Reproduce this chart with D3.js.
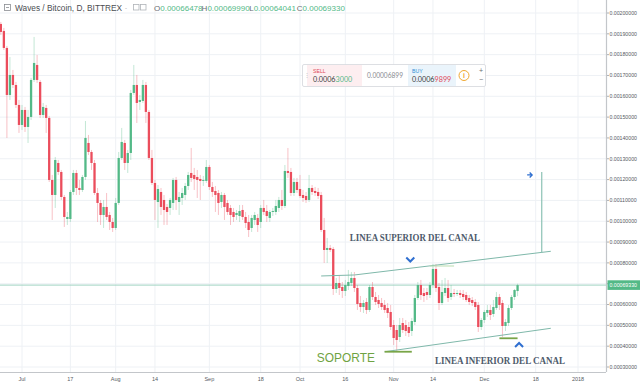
<!DOCTYPE html>
<html><head><meta charset="utf-8">
<script src="https://cdn.jsdelivr.net/npm/d3@7"></script>
<style>
html,body{margin:0;padding:0;background:#fff;}
svg{display:block;font-family:"Liberation Sans",Arial,sans-serif;}
</style></head><body>
<svg id="chart" width="640" height="385"></svg>
<script>
// ---------------- DATA ----------------
const dates = [
"2017-06-24","2017-06-25","2017-06-26","2017-06-27","2017-06-28","2017-06-29","2017-06-30",
"2017-07-01","2017-07-02","2017-07-03","2017-07-04","2017-07-05","2017-07-06","2017-07-07","2017-07-08","2017-07-09","2017-07-10",
"2017-07-11","2017-07-12","2017-07-13","2017-07-14","2017-07-15","2017-07-16","2017-07-17","2017-07-18","2017-07-19","2017-07-20",
"2017-07-21","2017-07-22","2017-07-23","2017-07-24","2017-07-25","2017-07-26","2017-07-27","2017-07-28","2017-07-29","2017-07-30","2017-07-31",
"2017-08-01","2017-08-02","2017-08-03","2017-08-04","2017-08-05","2017-08-06","2017-08-07","2017-08-08","2017-08-09","2017-08-10",
"2017-08-11","2017-08-12","2017-08-13","2017-08-14","2017-08-15","2017-08-16","2017-08-17","2017-08-18","2017-08-19","2017-08-20",
"2017-08-21","2017-08-22","2017-08-23","2017-08-24","2017-08-25","2017-08-26","2017-08-27","2017-08-28","2017-08-29","2017-08-30","2017-08-31",
"2017-09-01","2017-09-02","2017-09-03","2017-09-04","2017-09-05","2017-09-06","2017-09-07","2017-09-08","2017-09-09","2017-09-10",
"2017-09-11","2017-09-12","2017-09-13","2017-09-14","2017-09-15","2017-09-16","2017-09-17","2017-09-18","2017-09-19","2017-09-20",
"2017-09-21","2017-09-22","2017-09-23","2017-09-24","2017-09-25","2017-09-26","2017-09-27","2017-09-28","2017-09-29","2017-09-30",
"2017-10-01","2017-10-02","2017-10-03","2017-10-04","2017-10-05","2017-10-06","2017-10-07","2017-10-08","2017-10-09","2017-10-10",
"2017-10-11","2017-10-12","2017-10-13","2017-10-14","2017-10-15","2017-10-16","2017-10-17","2017-10-18","2017-10-19","2017-10-20",
"2017-10-21","2017-10-22","2017-10-23","2017-10-24","2017-10-25","2017-10-26","2017-10-27","2017-10-28","2017-10-29","2017-10-30","2017-10-31",
"2017-11-01","2017-11-02","2017-11-03","2017-11-04","2017-11-05","2017-11-06","2017-11-07","2017-11-08","2017-11-09","2017-11-10",
"2017-11-11","2017-11-12","2017-11-13","2017-11-14","2017-11-15","2017-11-16","2017-11-17","2017-11-18","2017-11-19","2017-11-20",
"2017-11-21","2017-11-22","2017-11-23","2017-11-24","2017-11-25","2017-11-26","2017-11-27","2017-11-28","2017-11-29","2017-11-30",
"2017-12-01","2017-12-02","2017-12-03","2017-12-04","2017-12-05","2017-12-06","2017-12-07","2017-12-08","2017-12-09","2017-12-10",
"2017-12-11","2017-12-12"];

const open = [
0.0019474,0.0019138,0.0018322,0.0016064,0.0017025,0.0016544,0.0015584,
0.0014623,0.0015344,0.0014527,0.0015008,0.0016785,0.0017505,0.0016689,0.0015104,0.0015440,0.0014960,
0.0011982,0.0011261,0.0012798,0.0012366,0.0011165,0.0010108,0.0010108,0.0011405,0.0012318,0.0011597,
0.0011501,0.0012126,0.0013759,0.0013326,0.0012798,0.0011357,0.0010877,0.0010301,0.0010685,0.0010301,0.0009964,
0.0009676,0.0010877,0.0013038,0.0013759,0.0012798,0.0013278,0.0016160,0.0016544,0.0015728,0.0015776,
0.0016544,0.0015248,0.0013038,0.0011838,0.0010925,0.0011405,0.0011021,0.0010685,0.0010637,0.0010877,
0.0011982,0.0010925,0.0011117,0.0011261,0.0011693,0.0012318,0.0012222,0.0012126,0.0012030,0.0011934,0.0011934,
0.0012606,0.0011645,0.0011453,0.0011357,0.0010925,0.0011261,0.0010877,0.0010637,0.0010445,0.0010301,
0.0010253,0.0010541,0.0010205,0.0009964,0.0009676,0.0010060,0.0010157,0.0009964,0.0010637,0.0010493,
0.0010157,0.0010445,0.0010445,0.0010637,0.0011021,0.0010733,0.0012414,0.0012366,0.0011357,0.0011886,
0.0011549,0.0011261,0.0011213,0.0011021,0.0011597,0.0011453,0.0011405,0.0011261,0.0009580,0.0008620,
0.0008716,0.0008668,0.0006746,0.0007035,0.0006842,0.0006650,0.0006890,0.0007035,0.0007275,0.0006794,
0.0006074,0.0005882,0.0006122,0.0005738,0.0006842,0.0006362,0.0006218,0.0006074,0.0005978,0.0005834,0.0005642,
0.0005017,0.0004777,0.0004441,0.0005113,0.0005017,0.0004921,0.0004729,0.0005161,0.0006314,0.0006938,
0.0006554,0.0006602,0.0006458,0.0006938,0.0007707,0.0006842,0.0006074,0.0006554,0.0006794,0.0006362,
0.0006554,0.0006506,0.0006554,0.0006506,0.0006458,0.0006314,0.0006218,0.0006122,0.0005978,0.0004921,
0.0005257,0.0005594,0.0005738,0.0005546,0.0005834,0.0006362,0.0006074,0.0004969,0.0005113,0.0005834,
0.0006362,0.00066478];

const high = [
0.0019570,0.0019282,0.0018418,0.0017889,0.0017265,0.0016689,0.0015824,
0.0015584,0.0015488,0.0015344,0.0016881,0.0018850,0.0017985,0.0016785,0.0015680,0.0015584,0.0015056,
0.0012222,0.0013086,0.0012942,0.0012462,0.0011261,0.0010445,0.0011501,0.0012462,0.0012462,0.0011982,
0.0012222,0.0014815,0.0014143,0.0013423,0.0012942,0.0011597,0.0011021,0.0011021,0.0011357,0.0010445,0.0010157,
0.0011117,0.0013326,0.0014479,0.0013903,0.0013423,0.0016304,0.0017505,0.0017025,0.0016064,0.0016785,
0.0016689,0.0015344,0.0013423,0.0011982,0.0011741,0.0011597,0.0011261,0.0010829,0.0011117,0.0012078,
0.0012126,0.0011405,0.0011597,0.0011838,0.0012366,0.0013519,0.0012558,0.0012462,0.0012222,0.0012174,0.0012942,
0.0012702,0.0011886,0.0011693,0.0011501,0.0011405,0.0011357,0.0011021,0.0010781,0.0010637,0.0010541,
0.0010781,0.0010781,0.0010445,0.0010301,0.0010301,0.0010445,0.0010349,0.0010781,0.0011021,0.0010781,
0.0010541,0.0010637,0.0011021,0.0011165,0.0011501,0.0012702,0.0013519,0.0012558,0.0012078,0.0012078,
0.0012222,0.0011501,0.0011405,0.0012222,0.0011741,0.0011645,0.0011597,0.0011405,0.0010157,0.0009196,
0.0008860,0.0008764,0.0007275,0.0007419,0.0007083,0.0007179,0.0007659,0.0007563,0.0007563,0.0006938,
0.0006410,0.0006218,0.0006314,0.0006938,0.0007083,0.0006602,0.0006458,0.0006314,0.0006218,0.0006074,0.0005978,
0.0005257,0.0005017,0.0005354,0.0005354,0.0005257,0.0005161,0.0005354,0.0006458,0.0007083,0.0007179,
0.0006794,0.0006794,0.0007083,0.0007947,0.0007947,0.0007035,0.0007179,0.0007275,0.0007179,0.0006938,
0.0006746,0.0006698,0.0006698,0.0006698,0.0006602,0.0006458,0.0006362,0.0006266,0.0006122,0.0005354,
0.0005738,0.0005978,0.0005978,0.0006218,0.0006602,0.0006506,0.0006218,0.0005305,0.0005978,0.0006458,
0.0006746,0.00069990];

const low = [
0.0018946,0.0018226,0.0013999,0.0015824,0.0016400,0.0015440,0.0014239,
0.0014383,0.0014287,0.0013759,0.0014863,0.0016689,0.0016641,0.0014960,0.0014960,0.0014239,0.0011886,
0.0010060,0.0010637,0.0012222,0.0011021,0.0009724,0.0009820,0.0009964,0.0011261,0.0011261,0.0011261,
0.0011405,0.0011982,0.0013182,0.0012462,0.0011261,0.0009964,0.0009820,0.0009676,0.0010060,0.0009580,0.0009484,
0.0009580,0.0010781,0.0012942,0.0012462,0.0012318,0.0012942,0.0016064,0.0014719,0.0015344,0.0015680,
0.0014719,0.0012942,0.0011741,0.0010060,0.0009676,0.0010301,0.0009820,0.0009820,0.0010301,0.0010541,
0.0010541,0.0010301,0.0010781,0.0011021,0.0011501,0.0011886,0.0011501,0.0011117,0.0011021,0.0011693,0.0011838,
0.0011501,0.0011165,0.0010445,0.0010301,0.0010637,0.0010060,0.0010301,0.0009820,0.0009964,0.0010060,
0.0009964,0.0010060,0.0009676,0.0009244,0.0009484,0.0009820,0.0009484,0.0009676,0.0010301,0.0009964,
0.0009964,0.0010253,0.0010301,0.0010445,0.0010541,0.0010637,0.0012078,0.0011213,0.0011213,0.0011357,
0.0011117,0.0010925,0.0010877,0.0010925,0.0011261,0.0011213,0.0011069,0.0009484,0.0007995,0.0007995,
0.0008523,0.0006458,0.0006554,0.0006458,0.0006314,0.0006410,0.0006698,0.0006890,0.0006602,0.0005738,
0.0005642,0.0005594,0.0005546,0.0005642,0.0006218,0.0005978,0.0005834,0.0005738,0.0005594,0.0005354,0.0004777,
0.0004057,0.0003720,0.0004201,0.0004633,0.0004489,0.0004441,0.0004489,0.0005017,0.0006218,0.0006218,
0.0006122,0.0006218,0.0006314,0.0006794,0.0006602,0.0005738,0.0005978,0.0006410,0.0006122,0.0006218,
0.0006362,0.0006410,0.0006314,0.0006218,0.0006122,0.0005978,0.0005930,0.0005738,0.0004681,0.0004777,
0.0005113,0.0005402,0.0005257,0.0005402,0.0005738,0.0005738,0.0004441,0.0004729,0.0004969,0.0005738,
0.0006218,0.00064041];

const close = [
0.0019090,0.0018322,0.0016064,0.0017025,0.0016544,0.0015584,0.0014623,
0.0015344,0.0014527,0.0015008,0.0016785,0.0017601,0.0016785,0.0015104,0.0015488,0.0014960,0.0011982,
0.0011261,0.0012942,0.0012366,0.0011165,0.0010205,0.0010205,0.0011405,0.0012318,0.0011597,0.0011501,
0.0012126,0.0013999,0.0013326,0.0012798,0.0011357,0.0010877,0.0010301,0.0010685,0.0010205,0.0009964,0.0009676,
0.0010877,0.0013038,0.0013807,0.0012798,0.0013278,0.0016160,0.0016544,0.0015680,0.0015824,0.0016544,
0.0015248,0.0013038,0.0011838,0.0011021,0.0011549,0.0010685,0.0010541,0.0010445,0.0011021,0.0011982,
0.0011021,0.0011165,0.0011357,0.0011693,0.0012222,0.0012078,0.0012030,0.0011982,0.0011934,0.0011982,0.0012606,
0.0011645,0.0011405,0.0011261,0.0010877,0.0011261,0.0010685,0.0010445,0.0010301,0.0010205,0.0010397,
0.0010493,0.0010205,0.0009916,0.0009580,0.0010157,0.0010301,0.0009820,0.0010637,0.0010445,0.0010253,
0.0010445,0.0010493,0.0010733,0.0011021,0.0010733,0.0012414,0.0012318,0.0011357,0.0011886,0.0011501,
0.0011213,0.0011117,0.0011021,0.0011597,0.0011405,0.0011357,0.0011213,0.0009580,0.0008620,0.0008716,
0.0008620,0.0006746,0.0007035,0.0006794,0.0006650,0.0006938,0.0007083,0.0007275,0.0006794,0.0006026,
0.0005882,0.0006074,0.0005738,0.0006842,0.0006362,0.0006122,0.0006026,0.0005882,0.0005738,0.0005594,0.0004921,
0.0004393,0.0004297,0.0005017,0.0004777,0.0004729,0.0004633,0.0005209,0.0006314,0.0006938,0.0006458,
0.0006410,0.0006458,0.0006938,0.0007707,0.0006794,0.0006074,0.0006602,0.0006794,0.0006314,0.0006554,
0.0006506,0.0006554,0.0006458,0.0006362,0.0006218,0.0006122,0.0006074,0.0005882,0.0004921,0.0005257,
0.0005642,0.0005738,0.0005498,0.0005882,0.0006362,0.0005978,0.0004969,0.0005161,0.0005834,0.0006362,
0.0006698,0.00069330];

const priceTicks = [0.0003,0.0004,0.0005,0.0006,0.0007,0.0008,0.0009,0.0010,0.0011,0.0012,0.0013,
  0.0014,0.0015,0.0016,0.0017,0.0018,0.0019,0.0020];
const timeTickDates  = ["2017-07-01","2017-07-17","2017-08-01","2017-08-14","2017-09-01","2017-09-18","2017-10-01",
  "2017-10-16","2017-11-01","2017-11-14","2017-12-01","2017-12-18","2018-01-01"];
const timeTickLabels = ["Jul","17","Aug","14","Sep","18","Oct","16","Nov","14","Dec","18","2018"];

const legendSymbol = "Waves / Bitcoin, D, BITTREX";
const legendOHLC = [["O","0.00066478"],["H","0.00069990"],["L","0.00064041"],["C","0.00069330"]];
const lastPriceLabel = "0.00069330";
const widgetSell = ["0.0006","3000"], widgetSpread = "0.00006899", widgetBuy = ["0.0006","9899"];

// annotations (date, price)
const upperChannel = [["2017-10-08",0.0007371],["2017-10-19",0.0007419],["2017-12-23",0.0008557]];
const lowerChannel = [["2017-10-29",0.0003733],["2017-12-23",0.0004859]];
const soporteLine  = [["2017-10-29",0.0003733],["2017-11-07",0.0003733]];
const decSupport   = [["2017-12-06",0.0004379],["2017-12-12",0.0004379]];
const peakLine     = [["2017-11-13",0.0007851],["2017-11-21",0.0007851]];
const targetLine   = [["2017-12-20",0.0012366],["2017-12-20",0.0008504]];
const targetArrow  = ["2017-12-16",0.0012222];
const chevronDown  = ["2017-11-06T12:00:00Z",0.0008139];
const chevronUp    = ["2017-12-12T12:00:00Z",0.0004057];
const textNotes = [
  {t:"LINEA SUPERIOR DEL CANAL", d:"2017-10-17T12:00:00Z", p:0.0009028, kind:"serif", len:130},
  {t:"LINEA INFERIOR DEL CANAL", d:"2017-11-14T16:00:00Z", p:0.0003144, kind:"serif", len:130},
  {t:"SOPORTE", d:"2017-10-06T14:00:00Z", p:0.0003264, kind:"green", len:58}
];

// ---------------- DRAW ----------------
const W = 640, H = 385, plotR = 606, plotB = 372;
const parse = s => new Date(s.length === 10 ? s + "T00:00:00Z" : s);
const x = d3.scaleUtc().domain([parse("2017-07-01"), parse("2018-01-01")]).range([22, 578]);
const y = d3.scaleLinear().domain([0.0003, 0.0020]).range([367, 13]);

const UP = "#53b987", DOWN = "#eb4d5c";
const svg = d3.select("#chart");
svg.append("rect").attr("width", W).attr("height", H).attr("fill", "#fff");

svg.append("defs").append("clipPath").attr("id","plot")
  .append("rect").attr("x",0).attr("y",0).attr("width",plotR).attr("height",plotB);

const grid = svg.append("g");
grid.selectAll(".hg").data(priceTicks).join("line")
  .attr("x1",0).attr("x2",plotR).attr("y1",d=>y(d)).attr("y2",d=>y(d))
  .attr("stroke","#eef1f5").attr("stroke-width",1);
grid.selectAll(".vg").data(timeTickDates).join("line")
  .attr("x1",d=>x(parse(d))).attr("x2",d=>x(parse(d))).attr("y1",0).attr("y2",plotB)
  .attr("stroke","#eef1f5").attr("stroke-width",1);

const plot = svg.append("g").attr("clip-path","url(#plot)");

// last price line
const lastY = y(close[close.length-1]);
plot.append("line").attr("x1",0).attr("x2",plotR).attr("y1",lastY).attr("y2",lastY)
  .attr("stroke","#9fd3c1").attr("stroke-width",1);

// candles
const candles = dates.map((d,i)=>({d:parse(d),o:open[i],h:high[i],l:low[i],c:close[i]}));
const bw = 2.3;
const cg = plot.append("g");
cg.selectAll(".wick").data(candles).join("line")
  .attr("x1",d=>x(d.d)).attr("x2",d=>x(d.d))
  .attr("y1",d=>y(d.h)).attr("y2",d=>y(d.l))
  .attr("stroke",d=>d.c>=d.o?UP:DOWN).attr("stroke-opacity",0.35).attr("stroke-width",1);
cg.selectAll(".body").data(candles).join("rect")
  .attr("x",d=>x(d.d)-bw/2).attr("width",bw)
  .attr("y",d=>y(Math.max(d.o,d.c)))
  .attr("height",d=>Math.max(0.8, Math.abs(y(d.o)-y(d.c))))
  .attr("fill",d=>d.c>=d.o?UP:DOWN);

// annotations
const line = d3.line().x(d=>x(parse(d[0]))).y(d=>y(d[1]));
const ag = plot.append("g").attr("fill","none");
ag.append("path").attr("d",line(upperChannel)).attr("stroke","#7fb8aa").attr("stroke-width",1);
ag.append("path").attr("d",line(lowerChannel)).attr("stroke","#7fb8aa").attr("stroke-width",1);
ag.append("path").attr("d",line(peakLine)).attr("stroke","#b9ddb0").attr("stroke-width",1);
ag.append("path").attr("d",line(targetLine)).attr("stroke","#8cc2b4").attr("stroke-width",1.2);
ag.append("path").attr("d",line(soporteLine)).attr("stroke","#79a548").attr("stroke-width",1.8);
ag.append("path").attr("d",line(decSupport)).attr("stroke","#79a548").attr("stroke-width",1.8);

// chevrons / arrow
const cdx = x(parse(chevronDown[0])), cdy = y(chevronDown[1]);
ag.append("path").attr("d",`M${cdx-4},${cdy-2.5}L${cdx},${cdy+1.5}L${cdx+4},${cdy-2.5}`)
  .attr("stroke","#2f6fd0").attr("stroke-width",2);
const cux = x(parse(chevronUp[0])), cuy = y(chevronUp[1]);
ag.append("path").attr("d",`M${cux-4},${cuy+2}L${cux},${cuy-2}L${cux+4},${cuy+2}`)
  .attr("stroke","#2f6fd0").attr("stroke-width",2);
const tax = x(parse(targetArrow[0])), tay = y(targetArrow[1]);
ag.append("path").attr("d",`M${tax-2.5},${tay}L${tax+2.5},${tay}M${tax},${tay-2.5}L${tax+2.5},${tay}L${tax},${tay+2.5}`)
  .attr("stroke","#2f6fd0").attr("stroke-width",1.3);

// text notes
textNotes.forEach(n=>{
  const t = svg.append("text").attr("x",x(parse(n.d))).attr("y",y(n.p)).text(n.t)
    .attr("textLength",n.len).attr("lengthAdjust","spacingAndGlyphs");
  if(n.kind==="serif"){
    t.attr("font-family","'Liberation Serif','DejaVu Serif',serif").attr("font-weight","bold")
     .attr("font-size",9.5).attr("fill","#4d5a6b");
  } else {
    t.attr("font-family","'Liberation Sans',Arial,sans-serif").attr("font-size",13.5).attr("fill","#6fa342");
  }
});

// axes
svg.append("line").attr("x1",plotR+0.5).attr("x2",plotR+0.5).attr("y1",0).attr("y2",plotB)
  .attr("stroke","#c3c6ca").attr("stroke-width",1.2);
svg.append("line").attr("x1",0).attr("x2",plotR).attr("y1",plotB+0.5).attr("y2",plotB+0.5)
  .attr("stroke","#c3c6ca").attr("stroke-width",1.2);

const yAxis = svg.append("g");
priceTicks.forEach(p=>{
  yAxis.append("line").attr("x1",plotR+1).attr("x2",plotR+3).attr("y1",y(p)).attr("y2",y(p))
    .attr("stroke","#9a9da2").attr("stroke-width",0.8);
  yAxis.append("text").attr("x",plotR+3.5).attr("y",y(p)+1.8).text(d3.format(".8f")(p))
    .attr("font-size",5.2).attr("fill","#555b63");
});
// last price badge
svg.append("rect").attr("x",plotR+1.5).attr("y",lastY-4.8).attr("width",W-plotR-1.5).attr("height",9.6)
  .attr("fill",UP);
svg.append("text").attr("x",plotR+3.5).attr("y",lastY+1.8).text(lastPriceLabel)
  .attr("font-size",5.2).attr("fill","#fff");

const xAxis = svg.append("g");
timeTickDates.forEach((d,i)=>{
  xAxis.append("text").attr("x",x(parse(d))).attr("y",381).attr("text-anchor","middle")
    .text(timeTickLabels[i]).attr("font-size",5.5).attr("fill","#555b63");
});

// legend
const lg = svg.append("g");
lg.append("rect").attr("x",4.5).attr("y",4.5).attr("width",6).attr("height",6).attr("fill","none")
  .attr("stroke","#8a8d92").attr("stroke-width",0.8);
lg.append("line").attr("x1",6).attr("x2",9).attr("y1",7.5).attr("y2",7.5).attr("stroke","#8a8d92").attr("stroke-width",0.8);
lg.append("text").attr("x",15).attr("y",10.5).text(legendSymbol).attr("font-size",8.3).attr("fill","#4a4d52");
lg.append("text").attr("x",125).attr("y",10).text("-").attr("font-size",6).attr("fill","#9a9da2");
[133,140].forEach(ix=>{
  lg.append("rect").attr("x",ix+0.5).attr("y",4.5).attr("width",5.5).attr("height",5.5).attr("fill","none")
    .attr("stroke","#b0b3b8").attr("stroke-width",0.8);
});
let lx = 154;
legendOHLC.forEach(([k,v])=>{
  const t = lg.append("text").attr("x",lx).attr("y",10.5).attr("font-size",8);
  t.append("tspan").text(k).attr("fill","#6a6d72");
  t.append("tspan").text(v).attr("fill",UP);
  lx += 47.6;
});

// trading widget
const wg = svg.append("g");
wg.append("rect").attr("x",302.5).attr("y",64.5).attr("width",183).attr("height",22).attr("fill","#fff")
  .attr("stroke","#d4d7dc").attr("stroke-width",0.8).attr("rx",1.5);
wg.append("rect").attr("x",307).attr("y",65).attr("width",55).attr("height",21).attr("fill","#fdeef0");
wg.append("rect").attr("x",408).attr("y",65).attr("width",48).attr("height",21).attr("fill","#eaf4fb");
wg.append("text").attr("x",304).attr("y",77).text("⋮").attr("font-size",6).attr("fill","#c0c3c8");
wg.append("text").attr("x",313).attr("y",72.5).text("SELL").attr("font-size",5.2).attr("fill","#e0495a");
const st = wg.append("text").attr("x",313).attr("y",81.5).attr("font-size",7.2).attr("font-family","Lato,'Liberation Sans',sans-serif");
st.append("tspan").text(widgetSell[0]).attr("fill","#3a3d42");
st.append("tspan").text(widgetSell[1]).attr("fill","#53b987");
wg.append("text").attr("x",367).attr("y",78).text(widgetSpread).attr("font-size",6.6).attr("fill","#8a8d92")
  .attr("font-family","Lato,'Liberation Sans',sans-serif");
wg.append("text").attr("x",412).attr("y",72.5).text("BUY").attr("font-size",5.2).attr("fill","#2f8fd6");
const bt = wg.append("text").attr("x",412).attr("y",81.5).attr("font-size",7.2).attr("font-family","Lato,'Liberation Sans',sans-serif");
bt.append("tspan").text(widgetBuy[0]).attr("fill","#3a3d42");
bt.append("tspan").text(widgetBuy[1]).attr("fill","#e0495a");
wg.append("circle").attr("cx",464).attr("cy",75.5).attr("r",5).attr("fill","#fff").attr("stroke","#f0a830").attr("stroke-width",1);
wg.append("text").attr("x",464).attr("y",78.3).attr("text-anchor","middle").text("i").attr("font-size",7).attr("fill","#f0a830").attr("font-weight","bold");
wg.append("text").attr("x",481).attr("y",73).attr("text-anchor","middle").text("+").attr("font-size",7).attr("fill","#6a6d72");
wg.append("text").attr("x",481).attr("y",81.5).attr("text-anchor","middle").text("−").attr("font-size",7).attr("fill","#6a6d72");
</script>
</body></html>
